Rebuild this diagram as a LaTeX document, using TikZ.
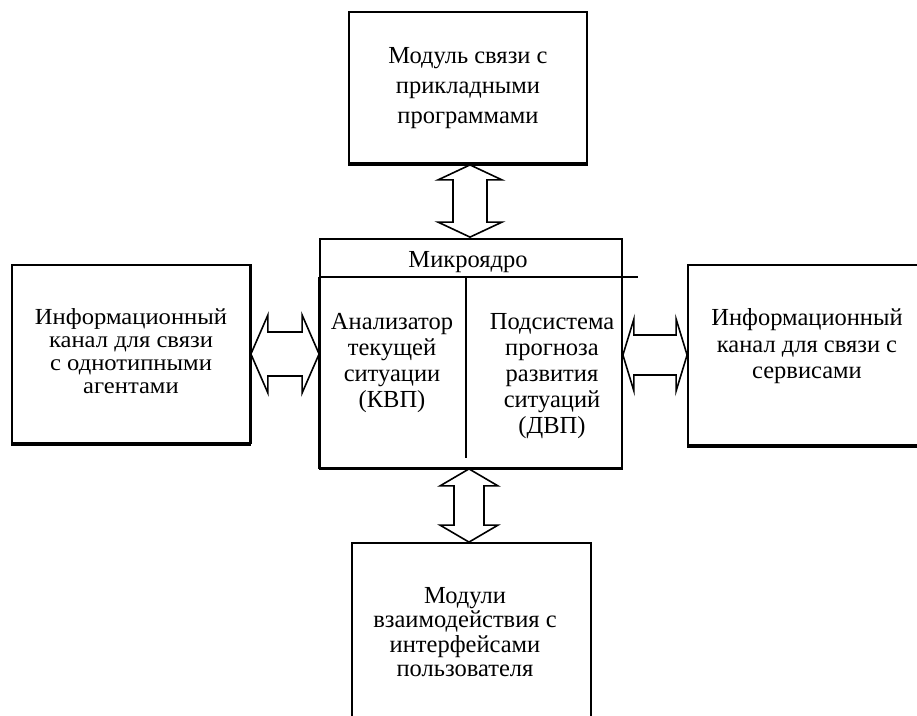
\documentclass[tikz,border=0pt]{standalone}
\usepackage{fontspec}
\setmainfont{Liberation Serif}
\newfontfamily\widerserif[FakeStretch=1.07]{Liberation Serif}
\usetikzlibrary{calc}

% horizontal double block arrow: #1 left tip, #2 right tip, #3 head length,
% #4 half head width, #5 half shaft width
\newcommand\hblockarrow[5]{%
  \draw[blockarrow] (#1) -- ($(#1)+(#3,-#4)$) -- ($(#1)+(#3,-#5)$)
    -- ($(#2)+(-#3,-#5)$) -- ($(#2)+(-#3,-#4)$) -- (#2)
    -- ($(#2)+(-#3,#4)$) -- ($(#2)+(-#3,#5)$)
    -- ($(#1)+(#3,#5)$) -- ($(#1)+(#3,#4)$) -- cycle;}
% vertical double block arrow: #1 upper tip, #2 lower tip
\newcommand\vblockarrow[5]{%
  \draw[blockarrow] (#1) -- ($(#1)+(#4,#3)$) -- ($(#1)+(#5,#3)$)
    -- ($(#2)+(#5,-#3)$) -- ($(#2)+(#4,-#3)$) -- (#2)
    -- ($(#2)+(-#4,-#3)$) -- ($(#2)+(-#5,-#3)$)
    -- ($(#1)+(-#5,#3)$) -- ($(#1)+(-#4,#3)$) -- cycle;}

\begin{document}
\begin{tikzpicture}[x=1pt,y=-1pt,
  box/.style={draw,line width=1.8pt,rectangle,inner sep=0pt},
  label/.style={align=center,font=\fontsize{24.5}{26}\selectfont,inner sep=0pt},
  blockarrow/.style={draw,fill=white,line width=1.6pt,line join=miter},
  heavy/.style={line width=3.8pt},
  thinline/.style={line width=1.8pt}]
\useasboundingbox (0,0) rectangle (917,715);
\clip (0,0) rectangle (917,715);
\fill[white] (0,0) rectangle (917,715);

% boxes
\node[box,minimum width=238pt,minimum height=151pt] (top) at (468,87.5) {};
\node[box,minimum width=302pt,minimum height=229pt] (core) at (471,353.5) {};
\node[box,minimum width=238pt,minimum height=178pt] (left) at (131,354) {};
\node[box,minimum width=320pt,minimum height=180pt] (right) at (848,355) {};
\node[box,minimum width=239pt,minimum height=220pt] (bottom) at (471.5,653) {};

% heavier edges
\draw[heavy] (top.south west) -- (top.south east);
\draw[heavy] (left.south west) -- (left.south east);
\draw[line width=2.8pt] (left.north east) -- (left.south east);
\draw[heavy] (right.south west) -- (right.south east);
\draw[line width=3pt] (core.south west) -- (core.south east);

% inner structure of the micro-kernel
\coordinate (divL) at ($(core.north west)+(0,39)$);
\coordinate (divR) at ($(core.north east)+(15,39)$);
\draw[thinline] (divL) -- (divR);
\draw[line width=3.2pt] (divL) -- (core.south west);
\draw[thinline] ($(core.north)+(-5,39)$) -- ($(core.south)+(-5,-11)$);

% texts
\node[label] (toptext) at (468,88) {Модуль связи с\\[4pt]прикладными\\[4pt]программами};
\node[label] (kernel) at (468,262) {Микроядро};
\node[label] (kvp) at (392,363.5) {Анализатор\\текущей\\ситуации\\(КВП)};
\node[label] (dvp) at (552,376.5) {Подсистема\\прогноза\\развития\\ситуаций\\(ДВП)};
\node[label,font=\widerserif\fontsize{23}{23}\selectfont] (lefttext) at (131,351) {Информационный\\канал для связи\\с однотипными\\агентами};
\node[label,font=\fontsize{24.5}{26.5}\selectfont] (righttext) at (807,346.5) {Информационный\\канал для связи с\\сервисами};
\node[label,font=\fontsize{24.5}{24.5}\selectfont] (bottomtext) at (465,632) {Модули\\взаимодействия с\\интерфейсами\\пользователя};

% double block arrows between the modules and the micro-kernel
\coordinate (la) at (left.east);
\coordinate (lb) at (core.west |- left.east);
\hblockarrow{la}{lb}{17}{39}{22}
\coordinate (ra) at (core.east |- right.west);
\coordinate (rb) at (right.west);
\hblockarrow{ra}{rb}{11}{36}{20}
\coordinate (ta) at ($(top.south)+(2,1)$);
\coordinate (tb) at ($(core.north -| ta)+(0,-1)$);
\vblockarrow{ta}{tb}{15}{32}{17}
\coordinate (ba) at ($(core.south)+(-2,0)$);
\coordinate (bb) at (bottom.north -| ba);
\vblockarrow{ba}{bb}{17}{29}{15}
\end{tikzpicture}
\end{document}
